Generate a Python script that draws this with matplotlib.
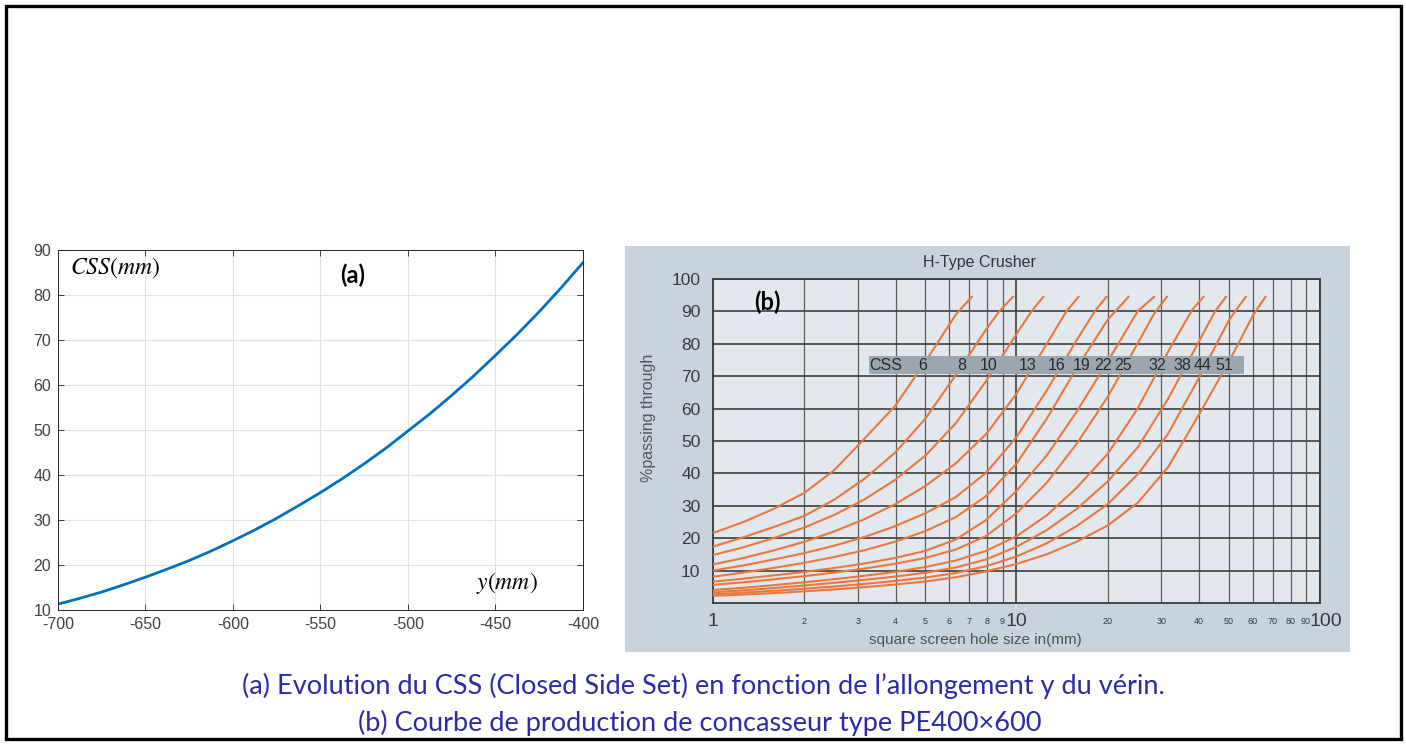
import matplotlib
matplotlib.use('Agg')
import matplotlib.pyplot as plt
from matplotlib.patches import Rectangle
from matplotlib.transforms import ScaledTranslation

plt.rcParams['mathtext.fontset'] = 'stix'
plt.rcParams['axes.unicode_minus'] = False

# ---- (a) CSS vs cylinder elongation y ----
y_elong = [-700, -687.5, -675, -662.5, -650, -637.5, -625, -612.5, -600, -587.5, -575,
           -562.5, -550, -537.5, -525, -512.5, -500, -487.5, -475, -462.5, -450,
           -437.5, -425, -412.5, -400]
css_a = [11.3, 12.6, 14.0, 15.6, 17.3, 19.1, 21.0, 23.1, 25.4, 27.8, 30.4,
         33.2, 36.1, 39.2, 42.5, 46.0, 49.8, 53.6, 57.7, 62.0, 66.6,
         71.3, 76.3, 81.6, 87.2]

# ---- (b) H-Type crusher curves (x = screen hole size mm, y = % passing) ----
css_labels = ['6', '8', '10', '13', '16', '19', '22', '25', '32', '38', '44', '51']
screen_x = [
    [1, 1.26, 1.58, 2, 2.51, 3.16, 3.98, 5.01, 6.31, 7.12],
    [1, 1.26, 1.58, 2, 2.51, 3.16, 3.98, 5.01, 6.31, 7.94, 8.77, 9.73],
    [1, 1.26, 1.58, 2, 2.51, 3.16, 3.98, 5.01, 6.31, 7.94, 10, 11.2, 12.25],
    [1, 1.26, 1.58, 2, 2.51, 3.16, 3.98, 5.01, 6.31, 7.94, 10, 12.6, 14.6, 16.0],
    [1, 1.26, 1.58, 2, 2.51, 3.16, 3.98, 5.01, 6.31, 7.94, 10, 12.6, 15.8, 18.1, 19.8],
    [1, 1.26, 1.58, 2, 2.51, 3.16, 3.98, 5.01, 6.31, 7.94, 10, 12.6, 15.8, 20, 23.4],
    [1, 1.26, 1.58, 2, 2.51, 3.16, 3.98, 5.01, 6.31, 7.94, 10, 12.6, 15.8, 20, 25.1, 28.4],
    [1, 1.26, 1.58, 2, 2.51, 3.16, 3.98, 5.01, 6.31, 7.94, 10, 12.6, 15.8, 20, 25.1, 28.5, 31.3],
    [1, 1.26, 1.58, 2, 2.51, 3.16, 3.98, 5.01, 6.31, 7.94, 10, 12.6, 15.8, 20, 25.1, 31.6, 38, 41.3],
    [1, 1.26, 1.58, 2, 2.51, 3.16, 3.98, 5.01, 6.31, 7.94, 10, 12.6, 15.8, 20, 25.1, 31.6, 39.8, 45.1, 49],
    [1, 1.26, 1.58, 2, 2.51, 3.16, 3.98, 5.01, 6.31, 7.94, 10, 12.6, 15.8, 20, 25.1, 31.6, 39.8, 50.1, 56.9],
    [1, 1.26, 1.58, 2, 2.51, 3.16, 3.98, 5.01, 6.31, 7.94, 10, 12.6, 15.8, 20, 25.1, 31.6, 39.8, 50.1, 60.3, 66.1],
]
passing = [
    [21.6, 25.0, 29.0, 34.0, 41.0, 50.8, 60.8, 74.5, 89, 94.5],
    [17.4, 20.3, 23.4, 26.9, 31.9, 38.4, 46.4, 56.9, 70.4, 84.4, 90, 94.5],
    [14.8, 17.2, 20.0, 23.3, 27.2, 32.0, 38.0, 45.5, 55.5, 68.5, 83.0, 90, 94.5],
    [11.9, 13.9, 16.2, 18.9, 22.1, 25.9, 30.5, 36.1, 43.1, 52.1, 64.6, 80.1, 90, 94.5],
    [10, 11.6, 13.4, 15.4, 17.7, 20.4, 23.7, 27.7, 32.7, 40.2, 51.2, 65.7, 81.2, 90, 94.5],
    [8.1, 9.4, 10.8, 12.4, 14.2, 16.3, 18.9, 22.2, 26.5, 33.0, 43.0, 57.0, 72.5, 87.5, 94.5],
    [6.6, 7.5, 8.5, 9.6, 10.8, 12.2, 13.9, 16.1, 19.6, 25.6, 34.6, 45.6, 59.1, 74.6, 90.1, 94.5],
    [5.6, 6.4, 7.3, 8.3, 9.4, 10.65, 12.1, 13.9, 16.5, 20.7, 27.7, 37.2, 49.2, 63.7, 80.2, 89.5, 94.5],
    [4.0, 4.7, 5.5, 6.4, 7.35, 8.4, 9.6, 11.1, 13.1, 16.1, 20.6, 27.1, 35.6, 46.1, 60.1, 77.6, 90.6, 94.5],
    [3.3, 3.9, 4.6, 5.4, 6.25, 7.15, 8.15, 9.35, 10.95, 13.45, 17.35, 22.55, 29.05, 37.55, 48.05, 63.05, 80.5, 90, 94.5],
    [2.7, 3.2, 3.75, 4.4, 5.1, 5.9, 6.8, 7.85, 9.25, 11.35, 14.35, 18.45, 23.75, 30.55, 39.75, 52.25, 69.25, 87.25, 94.5],
    [2.2, 2.6, 3.05, 3.6, 4.2, 4.9, 5.7, 6.65, 7.95, 9.75, 12.05, 15.05, 18.95, 23.95, 30.95, 41.95, 57.95, 74.45, 88.95, 94.5],
]
# CSS legend band and where each label sits on it
band_x = [3.27, 56.2]
band_y = [70.7, 76.2]
label_x = [4.92, 6.61, 8.11, 10.9, 13.6, 16.4, 19.3, 22.4, 29.1, 35.1, 41.1, 48.3]
css_word_x = 3.72

major_x = [1, 10, 100]
minor_x = [2, 3, 4, 5, 6, 7, 8, 9, 20, 30, 40, 50, 60, 70, 80, 90]
y_ticks_b = [10, 20, 30, 40, 50, 60, 70, 80, 90, 100]

W, H = 1406, 744


def box(l, t, r, b):
    return [l / W, 1 - b / H, (r - l) / W, (b - t) / H]


fig = plt.figure(figsize=(W / 100, H / 100), dpi=100)
fig.patch.set_facecolor('white')

# ---------- left panel ----------
ax1 = fig.add_axes(box(58, 250, 583, 610))
ax1.plot(y_elong, css_a, color='#0072BD', lw=2.0)
ax1.set_xlim(-700, -400)
ax1.set_ylim(10, 90)
ax1.set_xticks(range(-700, -399, 50))
ax1.set_yticks(range(10, 91, 10))
ax1.grid(True, color='#E2E2E2', lw=0.8)
ax1.set_axisbelow(True)
ax1.tick_params(direction='in', top=True, right=True, length=4, width=0.6,
                labelsize=11.5, color='#262626', labelcolor='#404040', pad=5)
for lab in ax1.get_xticklabels() + ax1.get_yticklabels():
    lab.set_family('Liberation Sans')
for sp in ax1.spines.values():
    sp.set_color('#262626')
    sp.set_linewidth(0.7)
ax1.text(0.022, 0.95, r'$CSS(mm)$', transform=ax1.transAxes, fontsize=17,
         ha='left', va='center')
ax1.text(0.562, 0.93, '(a)', transform=ax1.transAxes, fontsize=17,
         fontweight='bold', family='Lato', ha='center', va='center')
ax1.text(0.855, 0.075, r'$y(mm)$', transform=ax1.transAxes, fontsize=17,
         ha='center', va='center')

# ---------- right panel ----------
bg = fig.add_axes(box(625, 246, 1350, 652))
bg.set_facecolor('#C9D3DD')
bg.set_xticks([])
bg.set_yticks([])
for sp in bg.spines.values():
    sp.set_visible(False)

ax2 = fig.add_axes(box(713, 279, 1320, 603))
ax2.set_zorder(2)
ax2.set_facecolor('#E3E7EE')
for xs, ys in zip(screen_x, passing):
    ax2.plot(xs, ys, color='#E8783C', lw=1.5, zorder=3)
ax2.set_xscale('log')
ax2.set_xlim(1, 100)
ax2.set_ylim(0, 100)
ax2.set_xticks(major_x, labels=[str(v) for v in major_x])
ax2.set_xticks(minor_x, labels=[str(v) for v in minor_x], minor=True)
ax2.set_yticks(y_ticks_b)
ax2.grid(True, which='major', color='#4a4a4a', lw=1.3)
ax2.grid(True, which='minor', axis='x', color='#5e5e5e', lw=0.9)
ax2.set_axisbelow(True)
ax2.tick_params(which='both', length=0, labelcolor='#3a3a3a')
ax2.tick_params(axis='x', which='major', labelsize=14, pad=13)
ax2.tick_params(axis='x', which='minor', labelsize=6.5, pad=13)
ax2.tick_params(axis='y', labelsize=12.5, pad=9)
for lab in ax2.get_xticklabels(which='both'):
    lab.set_va('center')
    lab.set_family('Liberation Sans')
last = ax2.get_xticklabels()[-1]
last.set_transform(last.get_transform() + ScaledTranslation(4 / 72, 0, fig.dpi_scale_trans))
for lab in ax2.get_yticklabels():
    lab.set_family('Liberation Sans')
for sp in ax2.spines.values():
    sp.set_color('#3c3c3c')
    sp.set_linewidth(1.3)

ax2.add_patch(Rectangle((band_x[0], band_y[0]), band_x[1] - band_x[0],
                        band_y[1] - band_y[0], facecolor='#9CA6B1',
                        edgecolor='none', zorder=5))
band_mid = (band_y[0] + band_y[1]) / 2
ax2.text(css_word_x, band_mid, 'CSS', fontsize=11.5, color='#2a2a2a',
         family='Liberation Sans', ha='center', va='center', zorder=6)
for xv, txt in zip(label_x, css_labels):
    ax2.text(xv, band_mid, txt, fontsize=11.5, color='#2a2a2a',
             family='Liberation Sans', ha='center', va='center', zorder=6)
ax2.text(0.089, 0.929, '(b)', transform=ax2.transAxes, fontsize=17,
         fontweight='bold', family='Lato', ha='center', va='center', zorder=6)

fig.text(979 / W, 1 - 262 / H, 'H-Type Crusher', fontsize=11.5, color='#333333',
         family='Liberation Sans', ha='center', va='center', zorder=5)
fig.text(648 / W, 1 - 418 / H, '%passing through', fontsize=11.5, color='#555555',
         family='Liberation Sans', rotation=90, ha='center', va='center', zorder=5)
fig.text(975 / W, 1 - 640 / H, 'square screen hole size in(mm)', fontsize=11,
         color='#505050', family='Liberation Sans', ha='center', va='center', zorder=5)

# ---------- caption ----------
cap_color = '#2B2BA8'
fig.text(703 / W, 1 - 686 / H,
         '(a) Evolution du CSS (Closed Side Set) en fonction de l\u2019allongement y du v\u00e9rin.',
         fontsize=19.5, color=cap_color, family='Lato', ha='center', va='center')
fig.text(700 / W, 1 - 723 / H,
         '(b) Courbe de production de concasseur type PE400\u00d7600',
         fontsize=19.5, color=cap_color, family='Lato', ha='center', va='center')

# outer frame
fig.patches.append(Rectangle((5.5 / W, 5.5 / H), (W - 11) / W, (H - 11) / H,
                             transform=fig.transFigure, fill=False,
                             edgecolor='black', lw=2.4, zorder=10))

fig.savefig('out.png', dpi=100)
